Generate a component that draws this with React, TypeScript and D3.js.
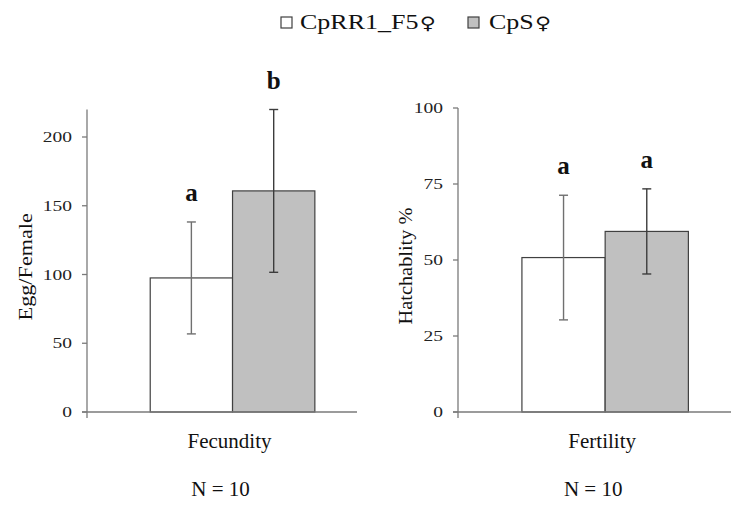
import React from 'react';
import * as d3 from 'd3';

// chart values
const seriesNames = ['CpRR1_F5♀', 'CpS♀'];
const seriesFill = ['#ffffff', '#c0c0c0'];
const seriesErrColor = ['#707070', '#3c3c3c'];

const fecundityMean = [97.5, 160.8];
const fecundityErr = [40.7, 59.2];
const fecundityLetters = ['a', 'b'];
const fecundityTicks = [0, 50, 100, 150, 200];

const fertilityMean = [50.8, 59.4];
const fertilityErr = [20.5, 14];
const fertilityLetters = ['a', 'a'];
const fertilityTicks = [0, 25, 50, 75, 100];

const W = 731;
const H = 506;
const FONT = '"Liberation Serif", "Times New Roman", serif';

function SText({ x, y, sx = 1, size, anchor = 'start', rotate = 0, weight = 'normal', fill = '#111', children }) {
  return (
    <text
      transform={`translate(${x},${y}) rotate(${rotate}) scale(${sx},1)`}
      fontSize={size}
      fontFamily={FONT}
      fontWeight={weight}
      textAnchor={anchor}
      fill={fill}
      stroke="none"
    >
      {children}
    </text>
  );
}

// legend label: the female sign is drawn larger, like the original
function LegendLabel({ x, y, name }) {
  const base = name.replace('♀', '');
  return (
    <SText x={x} y={y} sx={1.3} size={20}>
      {base}
      <tspan fontFamily='"DejaVu Sans", sans-serif' fontSize={17} dx={1}>♀</tspan>
    </SText>
  );
}

function Panel({ category, n, means, errs, letters, ticks, yMax, xRange, yRange, title, titleX, titleSx }) {
  const y = d3.scaleLinear().domain([0, yMax]).range(yRange);
  const x0 = d3.scaleBand().domain([category]).range(xRange).paddingInner(0).paddingOuter(0.32).align(0.6);
  const x1 = d3.scaleBand().domain(seriesNames).range([0, x0.bandwidth()]);
  const axisX = xRange[0];
  const base = y(0);
  const groupCenter = x0(category) + x0.bandwidth() / 2;
  const titleY = (yRange[0] + yRange[1]) / 2 + 6;

  return (
    <g>
      {/* bars */}
      {seriesNames.map((s, i) => (
        <rect
          key={s}
          x={x0(category) + x1(s)}
          y={y(means[i])}
          width={x1.bandwidth()}
          height={base - y(means[i])}
          fill={seriesFill[i]}
          stroke="#404040"
          strokeWidth={1.2}
        />
      ))}
      {/* axes */}
      <line x1={axisX - 5} x2={xRange[1]} y1={base} y2={base} stroke="#7a7a7a" strokeWidth={1.3} />
      <line x1={axisX} x2={axisX} y1={yRange[1]} y2={base + 6} stroke="#7a7a7a" strokeWidth={1.3} />
      {ticks.map((t) => (
        <g key={t}>
          <line x1={axisX - 5} x2={axisX} y1={y(t)} y2={y(t)} stroke="#7a7a7a" strokeWidth={1.3} />
          <SText x={axisX - 15} y={y(t) + 5} sx={1.3} size={15} anchor="end" fill="#222">
            {t}
          </SText>
        </g>
      ))}
      {/* error bars */}
      {seriesNames.map((s, i) => {
        const cx = x0(category) + x1(s) + x1.bandwidth() / 2;
        const top = y(means[i] + errs[i]);
        const bot = y(means[i] - errs[i]);
        return (
          <g key={s} stroke={seriesErrColor[i]} strokeWidth={1.4}>
            <line x1={cx} x2={cx} y1={top} y2={bot} />
            <line x1={cx - 4.5} x2={cx + 4.5} y1={top} y2={top} />
            <line x1={cx - 4.5} x2={cx + 4.5} y1={bot} y2={bot} />
          </g>
        );
      })}
      {/* significance letters */}
      {seriesNames.map((s, i) => {
        const cx = x0(category) + x1(s) + x1.bandwidth() / 2;
        const top = y(means[i] + errs[i]);
        return (
          <SText key={s} x={cx} y={top - 21} size={25} anchor="middle" weight="bold" fill="#111">
            {letters[i]}
          </SText>
        );
      })}
      {/* y title */}
      <SText x={titleX} y={titleY} rotate={-90} sx={titleSx} size={19} anchor="middle">
        {title}
      </SText>
      {/* category + N */}
      <SText x={groupCenter - 3} y={448} size={21} anchor="middle">
        {category}
      </SText>
      <SText x={groupCenter - 12} y={496} size={21} anchor="middle">
        {`N = ${n}`}
      </SText>
    </g>
  );
}

export default function App() {
  return (
    <svg
      width={W}
      height={H}
      style={{ position: 'absolute', left: 0, top: 0, background: '#fff' }}
    >
      <rect width={W} height={H} fill="#fff" />
      {/* legend */}
      <g>
        <rect x={281} y={17} width={11} height={11} fill={seriesFill[0]} stroke="#404040" strokeWidth={1.2} />
        <LegendLabel x={300} y={29} name={seriesNames[0]} />
        <rect x={468} y={17} width={11} height={11} fill={seriesFill[1]} stroke="#404040" strokeWidth={1.2} />
        <LegendLabel x={489} y={29} name={seriesNames[1]} />
      </g>
      <Panel
        category="Fecundity"
        n={10}
        means={fecundityMean}
        errs={fecundityErr}
        letters={fecundityLetters}
        ticks={fecundityTicks}
        yMax={220}
        xRange={[87, 357]}
        yRange={[412, 109.5]}
        title="Egg/Female"
        titleX={32}
        titleSx={1.17}
      />
      <Panel
        category="Fertility"
        n={10}
        means={fertilityMean}
        errs={fertilityErr}
        letters={fertilityLetters}
        ticks={fertilityTicks}
        yMax={100}
        xRange={[458, 731]}
        yRange={[412, 108]}
        title="Hatchablity %"
        titleX={412}
        titleSx={1.07}
      />
    </svg>
  );
}
